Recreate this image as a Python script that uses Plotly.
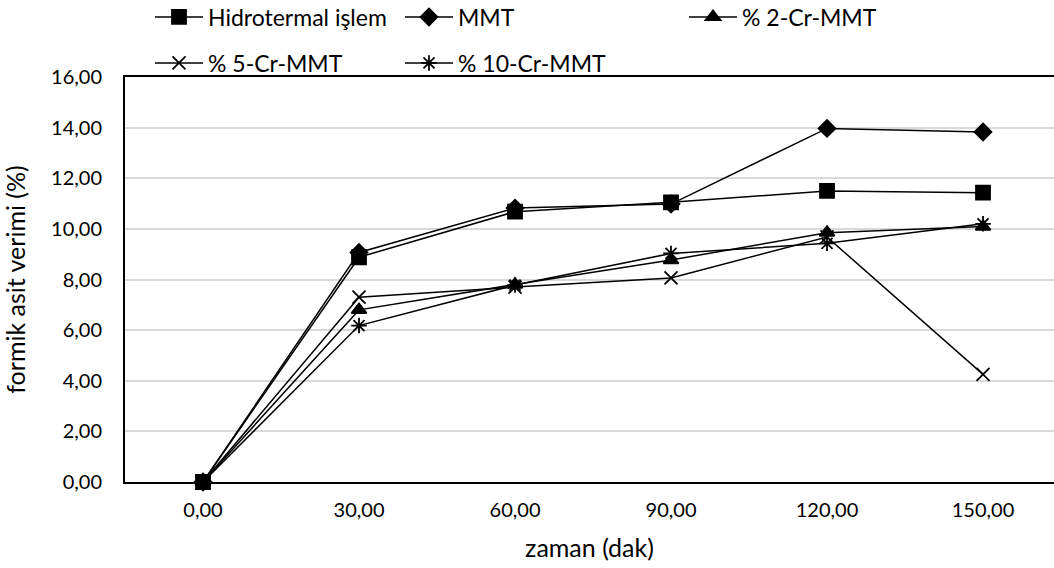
import plotly.graph_objects as go

categories = ["0,00", "30,00", "60,00", "90,00", "120,00", "150,00"]
hidrotermal = [0.0, 8.88, 10.68, 11.05, 11.50, 11.43]
mmt = [0.0, 9.07, 10.82, 10.98, 13.97, 13.83]
cr2 = [0.0, 6.80, 7.80, 8.77, 9.85, 10.09]
cr5 = [0.0, 7.30, 7.70, 8.06, 9.68, 4.25]
cr10 = [0.0, 6.18, 7.78, 9.03, 9.43, 10.20]

series = [
    ("Hidrotermal işlem", hidrotermal, "square", 14, "legend"),
    ("MMT", mmt, "diamond", 13, "legend"),
    ("% 2-Cr-MMT", cr2, "triangle-up", 13, "legend2"),
    ("% 5-Cr-MMT", cr5, "x-thin-open", 13, "legend3"),
    ("% 10-Cr-MMT", cr10, "asterisk-open", 13, "legend3"),
]

W, H = 1054, 568

xs = list(range(len(categories)))
fig = go.Figure()
for name, vals, sym, size, leg in series:
    fig.add_trace(go.Scatter(
        x=xs, y=vals, name=name, mode="lines+markers",
        line=dict(color="black", width=1.5),
        marker=dict(symbol=sym, size=size, color="black",
                    line=dict(color="black", width=1.8)),
        legend=leg, cliponaxis=False,
    ))

font = "Lato, 'Open Sans', sans-serif"
legcommon = dict(orientation="h", font=dict(family=font, size=23, color="black"),
                 bgcolor="rgba(0,0,0,0)", xref="container", yref="container",
                 xanchor="left", yanchor="middle", itemwidth=48, tracegroupgap=0,
                 entrywidth=187, entrywidthmode="pixels")
fig.update_layout(
    width=W, height=H,
    margin=dict(l=125, r=0, t=77, b=H - 482, autoexpand=False),
    paper_bgcolor="white", plot_bgcolor="white",
    separators=",.",
    font=dict(family=font, size=20, color="black"),
    legend=dict(**legcommon, x=150 / W, y=1 - 17 / H),
    legend2=dict(**legcommon, x=684 / W, y=1 - 17 / H),
    legend3=dict(**legcommon, x=150 / W, y=1 - 63 / H),
    xaxis=dict(
        tickmode="array", tickvals=xs, ticktext=categories,
        range=[-0.5, 5.455], showgrid=False, zeroline=False,
        showline=True, linecolor="black", linewidth=2, mirror=True,
        ticks="", ticklabelstandoff=9,
        title=dict(text="zaman (dak)", font=dict(size=25), standoff=19),
    ),
    yaxis=dict(
        range=[0, 16], dtick=2, tickformat=".2f",
        showgrid=True, gridcolor="#d9d9d9", gridwidth=2,
        zeroline=False, showline=True, linecolor="black", linewidth=2,
        ticks="", ticklabelstandoff=17,
        title=dict(text="formik asit verimi (%)", font=dict(size=25), standoff=18),
    ),
)
fig.write_html("out.html", config={"displayModeBar": False},
               post_script="document.body.style.margin='0px';")
